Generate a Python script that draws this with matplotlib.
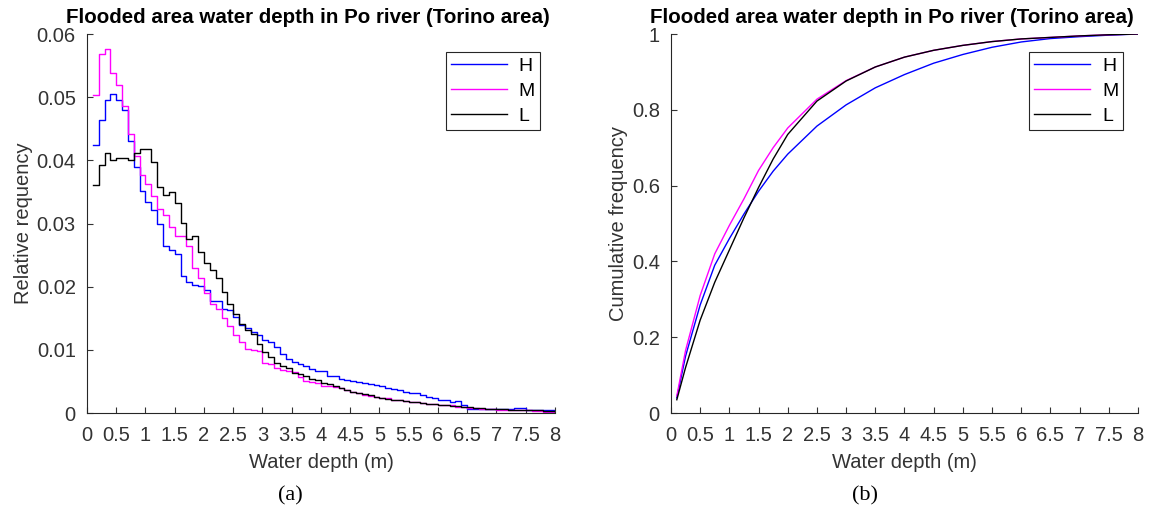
import numpy as np
import matplotlib
matplotlib.use("Agg")
import matplotlib.pyplot as plt
from matplotlib.ticker import FormatStrFormatter

plt.rcParams['font.family'] = ['Liberation Sans', 'DejaVu Sans']

# histogram bins (water depth, m) -- step plot starts at 0.1, ends at 8
depth_bins = np.linspace(0.1, 8.0, 80)

freq_H = [0.0425, 0.0464, 0.0495, 0.0505, 0.0495, 0.0479, 0.0431, 0.0389, 0.0352, 0.0334,
          0.0321, 0.0300, 0.0265, 0.0258, 0.0251, 0.0217, 0.0207, 0.0202, 0.0201, 0.0195,
          0.0178, 0.0178, 0.0165, 0.0163, 0.0152, 0.0139, 0.0134, 0.0128, 0.0124, 0.0116,
          0.0112, 0.0104, 0.0093, 0.0085, 0.0081, 0.0077, 0.0074, 0.0070, 0.0066, 0.0066,
          0.0059, 0.0059, 0.0054, 0.0053, 0.0051, 0.0049, 0.0047, 0.0046, 0.0045, 0.0042,
          0.0040, 0.0038, 0.0037, 0.0033, 0.0031, 0.0032, 0.0028, 0.0025, 0.0023, 0.0021,
          0.0020, 0.0017, 0.0019, 0.0012, 0.0006, 0.0006, 0.0006, 0.0006, 0.0006, 0.0006,
          0.0006, 0.0006, 0.0008, 0.0008, 0.0005, 0.0005, 0.0005, 0.0005, 0.0005, 0.0005]

freq_M = [0.0503, 0.0568, 0.0577, 0.0539, 0.0519, 0.0486, 0.0442, 0.0407, 0.0377, 0.0362,
          0.0343, 0.0323, 0.0313, 0.0295, 0.0280, 0.0281, 0.0265, 0.0230, 0.0214, 0.0190,
          0.0173, 0.0165, 0.0151, 0.0138, 0.0124, 0.0112, 0.0102, 0.0099, 0.0098, 0.0079,
          0.0077, 0.0072, 0.0068, 0.0066, 0.0065, 0.0057, 0.0051, 0.0049, 0.0047, 0.0043,
          0.0043, 0.0041, 0.0039, 0.0036, 0.0033, 0.0031, 0.0029, 0.0027, 0.0025, 0.0024,
          0.0023, 0.0021, 0.0020, 0.0019, 0.0018, 0.0017, 0.0016, 0.0015, 0.0014, 0.0013,
          0.0012, 0.0012, 0.0010, 0.0009, 0.0008, 0.0008, 0.0007, 0.0006, 0.0006, 0.0005,
          0.0005, 0.0005, 0.0004, 0.0004, 0.0004, 0.0003, 0.0003, 0.0002, 0.0002, 0.0002]

freq_L = [0.0361, 0.0393, 0.0411, 0.0401, 0.0404, 0.0404, 0.0400, 0.0412, 0.0418, 0.0418,
          0.0397, 0.0358, 0.0345, 0.0350, 0.0333, 0.0301, 0.0275, 0.0280, 0.0255, 0.0238,
          0.0227, 0.0214, 0.0192, 0.0173, 0.0157, 0.0141, 0.0131, 0.0125, 0.0110, 0.0096,
          0.0088, 0.0079, 0.0075, 0.0072, 0.0063, 0.0062, 0.0059, 0.0054, 0.0052, 0.0048,
          0.0046, 0.0043, 0.0040, 0.0037, 0.0034, 0.0032, 0.0030, 0.0028, 0.0026, 0.0024,
          0.0022, 0.0021, 0.0020, 0.0019, 0.0018, 0.0017, 0.0016, 0.0015, 0.0014, 0.0013,
          0.0012, 0.0011, 0.0011, 0.0010, 0.0009, 0.0008, 0.0008, 0.0007, 0.0006, 0.0006,
          0.0006, 0.0005, 0.0005, 0.0005, 0.0004, 0.0004, 0.0004, 0.0003, 0.0003, 0.0002]

# cumulative frequency read at these depths
cdf_depth = [0.1, 0.25, 0.5, 0.75, 1.0, 1.25, 1.5, 1.75, 2.0, 2.5, 3.0, 3.5, 4.0,
             4.5, 5.0, 5.5, 6.0, 6.5, 7.0, 7.5, 8.0]
cdf_H = [0.040, 0.150, 0.285, 0.390, 0.460, 0.525, 0.585, 0.638, 0.683, 0.757, 0.813,
         0.858, 0.893, 0.923, 0.946, 0.965, 0.979, 0.988, 0.993, 0.997, 1.000]
cdf_M = [0.045, 0.165, 0.310, 0.420, 0.495, 0.565, 0.640, 0.700, 0.752, 0.828, 0.877,
         0.913, 0.939, 0.957, 0.970, 0.980, 0.987, 0.991, 0.995, 0.998, 1.000]
cdf_L = [0.035, 0.120, 0.245, 0.345, 0.430, 0.515, 0.595, 0.670, 0.735, 0.823, 0.876,
         0.913, 0.939, 0.957, 0.970, 0.980, 0.987, 0.991, 0.995, 0.998, 1.000]

labels = ['H', 'M', 'L']
colors = ['#0000ff', '#ff00ff', '#000000']
title = 'Flooded area water depth in Po river (Torino area)'
xticks = np.arange(0, 8.01, 0.5)
txt = '#333333'

fig = plt.figure(figsize=(11.72, 5.09), dpi=100)
ax1 = fig.add_axes([0.0742, 0.1886, 0.3993, 0.7446])
ax2 = fig.add_axes([0.5725, 0.1886, 0.3985, 0.7446])

for lab, col, f in zip(labels, colors, [freq_H, freq_M, freq_L]):
    ax1.step(depth_bins, f, where='post', color=col, lw=1.0, label=lab)
for lab, col, c in zip(labels, colors, [cdf_H, cdf_M, cdf_L]):
    ax2.plot(cdf_depth, c, color=col, lw=1.0, label=lab)

ax1.set_ylim(0, 0.06)
ax1.set_yticks([0, 0.01, 0.02, 0.03, 0.04, 0.05, 0.06])
ax1.set_ylabel('Relative requency', fontsize=14.5, color=txt, labelpad=3)
ax2.set_ylim(0, 1)
ax2.set_yticks([0, 0.2, 0.4, 0.6, 0.8, 1])
ax2.set_ylabel('Cumulative frequency', fontsize=14.5, color=txt, labelpad=3)

for ax in (ax1, ax2):
    ax.set_xlim(0, 8)
    ax.set_xticks(xticks)
    ax.xaxis.set_major_formatter(FormatStrFormatter('%g'))
    ax.yaxis.set_major_formatter(FormatStrFormatter('%g'))
    ax.spines['top'].set_visible(False)
    ax.spines['right'].set_visible(False)
    for s in ('left', 'bottom'):
        ax.spines[s].set_color('#262626')
        ax.spines[s].set_linewidth(0.8)
    ax.tick_params(direction='in', length=4, width=0.8, labelsize=14.5,
                   colors=txt)
    ax.tick_params(axis='x', pad=9)
    ax.tick_params(axis='y', pad=8)
    ax.set_xlabel('Water depth (m)', fontsize=14.5, color=txt, labelpad=6)
    ax.set_title(title, fontsize=14.8, fontweight='bold', pad=8, x=0.473)
    leg = ax.legend(loc='upper right', bbox_to_anchor=(0.968, 0.952), fontsize=14,
                    fancybox=False, framealpha=1, edgecolor='#262626',
                    handlelength=2.9, handletextpad=0.6, borderpad=0.25,
                    labelspacing=0.38, borderaxespad=0.0)
    leg.get_frame().set_linewidth(0.8)

fig.text(0.2475, 0.025, '(a)', family=['Liberation Serif'], fontsize=16,
         ha='center', va='center')
fig.text(0.7380, 0.025, '(b)', family=['Liberation Serif'], fontsize=16,
         ha='center', va='center')

fig.savefig('out.png', dpi=100)
